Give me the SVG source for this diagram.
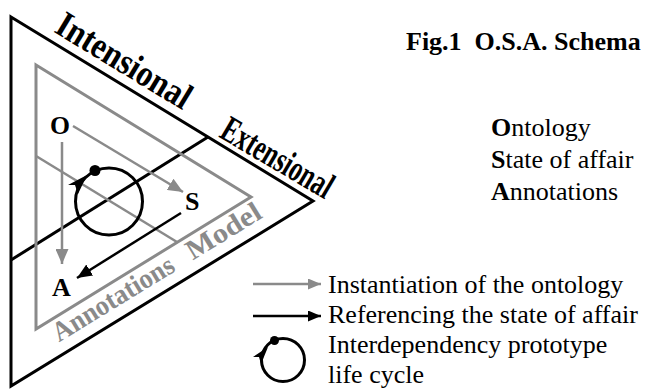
<svg xmlns="http://www.w3.org/2000/svg" width="649" height="390" viewBox="0 0 649 390">
  <style>
    .blk { fill: none; stroke: #000; stroke-width: 3; stroke-linejoin: miter; }
    .gry { fill: none; stroke: #8a8a8a; stroke-width: 3; stroke-linejoin: miter; }
    .ln-g { fill: none; stroke: #8a8a8a; stroke-width: 2.5; }
    .ln-b { fill: none; stroke: #000; stroke-width: 2.5; }
    .lbl { font-family: "Liberation Serif", "Times New Roman", serif; font-weight: bold; font-size: 26px; fill: #000; }
    .side { font-family: "Liberation Serif", "Times New Roman", serif; font-weight: bold; font-size: 37px; fill: #000; }
    .model { font-family: "Liberation Serif", "Times New Roman", serif; font-weight: bold; font-size: 28px; fill: #8a8a8a; }
    .txt { font-family: "Liberation Serif", "Times New Roman", serif; font-size: 26px; fill: #000; }
  </style>
  <defs>
    <marker id="ahG" viewBox="0 0 15 13" refX="15" refY="6.5" markerWidth="15" markerHeight="13" markerUnits="userSpaceOnUse" orient="auto">
      <path d="M0,0 L15,6.5 L0,13 Z" fill="#8a8a8a"/>
    </marker>
    <marker id="ahB" viewBox="0 0 15 13" refX="15" refY="6.5" markerWidth="15" markerHeight="13" markerUnits="userSpaceOnUse" orient="auto">
      <path d="M0,0 L15,6.5 L0,13 Z" fill="#000"/>
    </marker>
    <marker id="ahGs" viewBox="0 0 13 11" refX="13" refY="5.5" markerWidth="13" markerHeight="11" markerUnits="userSpaceOnUse" orient="auto">
      <path d="M0,0 L13,5.5 L0,11 Z" fill="#8a8a8a"/>
    </marker>
    <marker id="ahBs" viewBox="0 0 13 11" refX="13" refY="5.5" markerWidth="13" markerHeight="11" markerUnits="userSpaceOnUse" orient="auto">
      <path d="M0,0 L13,5.5 L0,11 Z" fill="#000"/>
    </marker>
  </defs>

  <!-- frames -->
  <g id="outer-triangle">
    <polygon class="blk" points="11,17 313,201 11,386"/>
  </g>
  <g id="divider">
    <line class="blk" x1="208" y1="137" x2="11" y2="260"/>
  </g>
  <g id="model-triangle">
    <polygon class="gry" points="36,65 251,197 36,329"/>
    <line class="ln-g" x1="36" y1="156" x2="177" y2="242"/>
  </g>

  <!-- side labels -->
  <g id="label-intensional">
    <text class="side" transform="translate(53,31.5) rotate(31.3)" textLength="152" lengthAdjust="spacingAndGlyphs">Intensional</text>
  </g>
  <g id="label-extensional">
    <text class="side" transform="translate(218,136.5) rotate(30.5)" textLength="124" lengthAdjust="spacingAndGlyphs">Extensional</text>
  </g>
  <g id="label-model" transform="translate(59,342.5) rotate(-31.5)">
    <text class="model" x="0" y="0" textLength="138" lengthAdjust="spacingAndGlyphs">Annotations</text>
    <text class="model" x="157" y="0" textLength="83" lengthAdjust="spacingAndGlyphs">Model</text>
  </g>

  <!-- nodes -->
  <g id="node-O">
    <text class="lbl" x="50" y="134" font-size="31" textLength="20" lengthAdjust="spacingAndGlyphs">O</text>
  </g>
  <g id="node-S">
    <text class="lbl" x="185" y="210">S</text>
  </g>
  <g id="node-A">
    <text class="lbl" x="52" y="296">A</text>
  </g>
  <g id="lifecycle">
    <circle cx="109" cy="201.5" r="33.5" fill="none" stroke="#000" stroke-width="3"/>
    <circle cx="95" cy="170.5" r="5.5" fill="#000"/>
    <polygon points="87,175 68,185 75,185 78,194" fill="#000"/>
  </g>

  <!-- connectors -->
  <g id="connectors">
    <line class="ln-g" x1="73" y1="126" x2="183" y2="192" marker-end="url(#ahG)"/>
    <line class="ln-g" x1="62" y1="142" x2="62" y2="264" marker-end="url(#ahG)"/>
    <line class="ln-b" x1="181" y1="213" x2="77" y2="278" marker-end="url(#ahB)"/>
  </g>

  <!-- title and key -->
  <g id="title">
    <text class="lbl" x="406" y="50">Fig.1&#160; O.S.A. Schema</text>
  </g>
  <g id="key-osa">
    <text class="txt" x="491" y="136"><tspan font-weight="bold">O</tspan>ntology</text>
    <text class="txt" x="491" y="168"><tspan font-weight="bold">S</tspan>tate of affair</text>
    <text class="txt" x="491" y="200"><tspan font-weight="bold">A</tspan>nnotations</text>
  </g>
  <g id="legend">
    <line class="ln-g" x1="253" y1="284" x2="321" y2="284" marker-end="url(#ahGs)"/>
    <line class="ln-b" x1="253" y1="316" x2="321" y2="316" marker-end="url(#ahBs)"/>
    <circle cx="283" cy="360" r="21.5" fill="none" stroke="#000" stroke-width="3"/>
    <circle cx="274.5" cy="340.5" r="4.5" fill="#000"/>
    <polygon points="268,347 253,357 259,357 261,364" fill="#000"/>
    <text class="txt" x="328" y="293">Instantiation of the ontology</text>
    <text class="txt" x="328" y="323">Referencing the state of affair</text>
    <text class="txt" x="328" y="353">Interdependency prototype</text>
    <text class="txt" x="328" y="383">life cycle</text>
  </g>
</svg>
